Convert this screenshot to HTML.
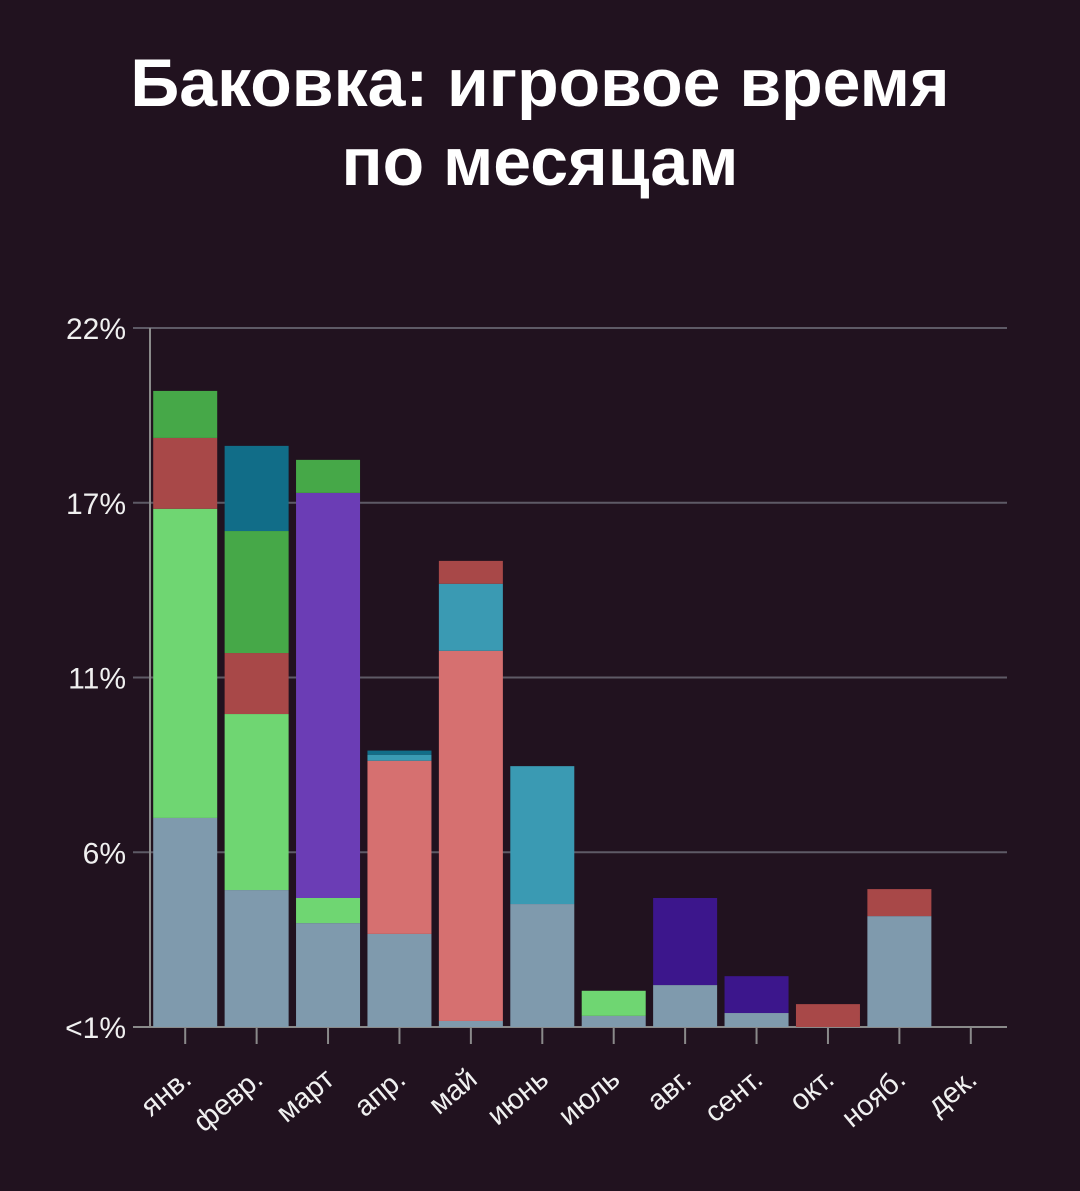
<!DOCTYPE html>
<html><head><meta charset="utf-8"><style>
body{margin:0;background:#21121f;}
svg{display:block;font-family:"Liberation Sans","DejaVu Sans",sans-serif;}
</style></head><body>
<svg id="c" width="1080" height="1191">
<text x="540" y="106" text-anchor="middle" fill="#fff" font-size="68" font-weight="bold">Баковка: игровое время</text>
<text x="540" y="185" text-anchor="middle" fill="#fff" font-size="68" font-weight="bold">по месяцам</text>
<g id="grid"></g><g id="bars"></g><g id="axes"></g>
</svg>
<script>
const months=["янв.","февр.","март","апр.","май","июнь","июль","авг.","сент.","окт.","нояб.","дек."];
const yTickValues=[0,5.5,11,16.5,22];
const yTickLabels=["<1%","6%","11%","17%","22%"];
const grey=[6.58,4.31,3.27,2.93,0.19,3.87,0.35,1.32,0.44,0,3.49,0];
const lightGreen=[9.73,5.54,0.79,0,0,0,0.79,0,0,0,0,0];
const salmon=[0,0,0,5.45,11.65,0,0,0,0,0,0,0];
const purple=[0,0,12.75,0,0,0,0,0,0,0,0,0];
const darkPurple=[0,0,0,0,0,0,0,2.74,1.16,0,0,0];
const cyan=[0,0,0,0.19,2.11,4.34,0,0,0,0,0,0];
const red=[2.23,1.92,0,0,0.72,0,0,0,0,0.72,0.85,0];
const green=[1.48,3.84,1.04,0,0,0,0,0,0,0,0,0];
const teal=[0,2.68,0,0.13,0,0,0,0,0,0,0,0];
const seriesList=[["grey",grey,"#7f9aad"],["light-green",lightGreen,"#6fd672"],["salmon",salmon,"#d67070"],["purple",purple,"#6b3db5"],["dark-purple",darkPurple,"#3c168c"],["cyan",cyan,"#3a9ab3"],["red",red,"#a84848"],["green",green,"#46a848"],["teal",teal,"#116d88"]];
const NS="http://www.w3.org/2000/svg";
const x0=150,x1=1007,yTop=328,yBot=1027,yMax=22;
const step=(x1-x0)/months.length;
const y=v=>yBot-(v/yMax)*(yBot-yTop);
const xc=i=>x0+step*(i+0.5)-0.5;
function mk(t,a,p){const e=document.createElementNS(NS,t);for(const k in a)e.setAttribute(k,a[k]);p.appendChild(e);return e;}
const grid=document.getElementById('grid'),bars=document.getElementById('bars'),axes=document.getElementById('axes');
yTickValues.forEach((v,i)=>{
 const l=mk('line',{x1:133,x2:x1,y1:y(v),y2:y(v),stroke:i==0?'#8a8a8a':'#5e5a66','stroke-width':2},grid);
 
 
 const t=mk('text',{x:126,y:y(v)+11,'text-anchor':'end',fill:'#f0f0f0','font-size':30},axes);
 t.textContent=yTickLabels[i];
 
 
});
const ax=mk('line',{x1:x0,x2:x0,y1:yTop,y2:yBot,stroke:'#8a8a8a','stroke-width':2},axes);


months.forEach((m,i)=>{
 let acc=0;
 seriesList.forEach(s=>{
  const v=s[1][i];if(v<=0)return;
  const r=mk('rect',{x:xc(i)-32,y:y(acc+v),width:64,height:y(acc)-y(acc+v),fill:s[2]},bars);
  
  
  acc+=v;
 });
 const tk=mk('line',{x1:xc(i),x2:xc(i),y1:yBot,y2:yBot+17,stroke:'#8a8a8a','stroke-width':2},axes);
 
 
 const t=mk('text',{x:xc(i)+8,y:1082,'text-anchor':'end',fill:'#f0f0f0','font-size':29,transform:`rotate(-40 ${xc(i)+8} 1082)`},axes);
 t.textContent=m;
 
 
});
</script>
</body></html>
